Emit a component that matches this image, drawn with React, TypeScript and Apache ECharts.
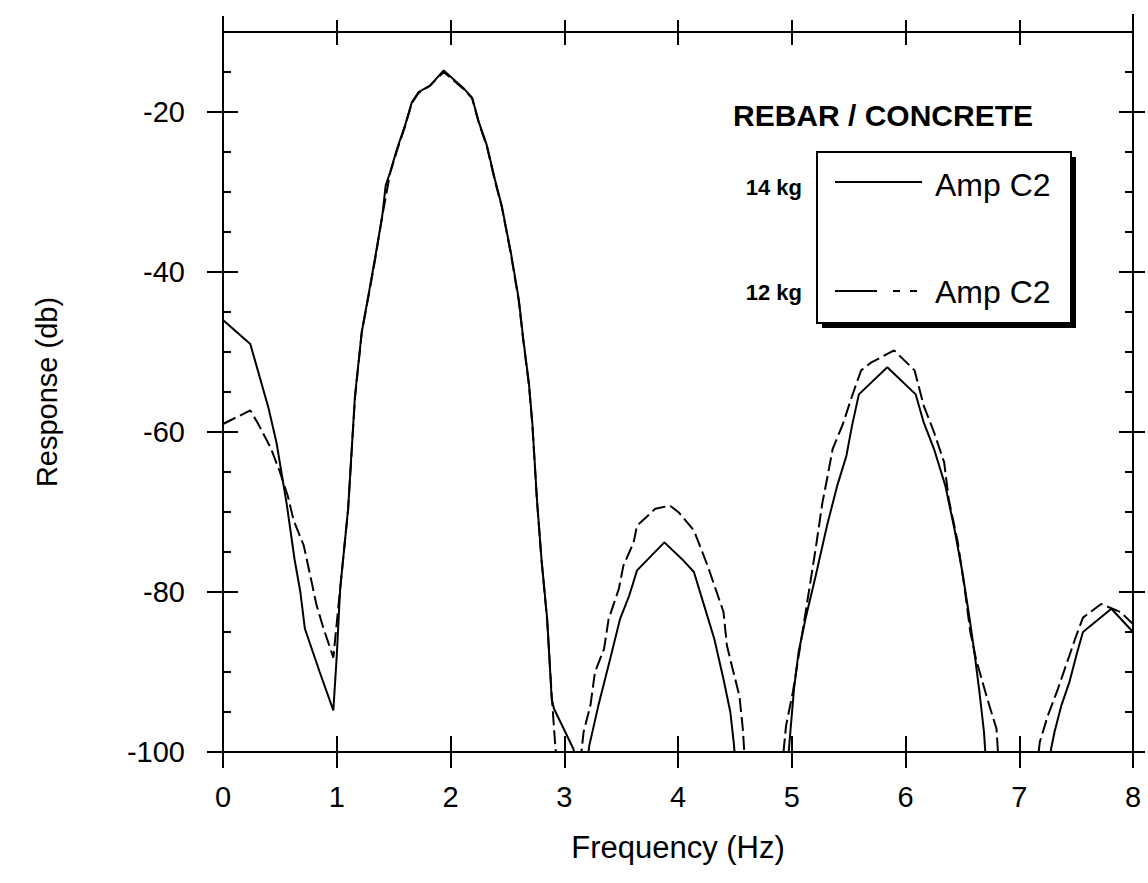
import React, { useEffect, useRef } from 'react';
import * as echarts from 'echarts';

// ---- data ----
const freq14 = [0, 0.24, 0.4, 0.47, 0.56, 0.63, 0.68, 0.72, 0.85, 0.97, 1.0, 1.03, 1.1, 1.16, 1.22, 1.29, 1.34, 1.4, 1.43, 1.47, 1.53, 1.6, 1.66, 1.72, 1.82, 1.94, 2.12, 2.19, 2.25, 2.32, 2.39, 2.45, 2.53, 2.6, 2.64, 2.69, 2.72, 2.76, 2.8, 2.85, 2.89, 2.91, 3.08, 3.15, 3.18, 3.22, 3.3, 3.41, 3.49, 3.57, 3.64, 3.88, 4.05, 4.14, 4.23, 4.32, 4.4, 4.46, 4.49, 4.52, 4.95, 4.99, 5.02, 5.06, 5.12, 5.21, 5.31, 5.4, 5.48, 5.53, 5.59, 5.84, 6.09, 6.16, 6.25, 6.35, 6.43, 6.5, 6.56, 6.61, 6.65, 6.69, 6.72, 7.25, 7.28, 7.31, 7.37, 7.44, 7.51, 7.56, 7.81, 8.0];
const amp14 = [-46, -49, -57, -61.3, -69, -76, -80, -84.6, -90, -94.8, -88, -79.6, -69.6, -55.5, -47.5, -42, -38, -33, -29.2, -27.5, -24.6, -21.7, -18.8, -17.5, -16.7, -14.8, -17.1, -18.2, -21.3, -24.2, -28.4, -31.7, -37.5, -43.4, -48.4, -54, -59, -68.4, -75.9, -83.4, -93.4, -94.6, -99.6, -104, -104, -99.2, -94.2, -88, -83.4, -80.5, -77.3, -73.8, -76.1, -77.5, -81.7, -85.9, -90.9, -95, -98.8, -104, -104, -97.1, -92.1, -87.5, -83.4, -78, -71.7, -66.7, -63, -59.2, -55.3, -51.9, -55.3, -58.8, -62.1, -66.7, -72.1, -77.5, -83, -88, -92.5, -97.5, -104, -104, -99.6, -97.5, -94.2, -91.3, -87.5, -85, -82.1, -85];

const freq12 = [0, 0.24, 0.31, 0.42, 0.5, 0.57, 0.62, 0.71, 0.78, 0.82, 0.88, 0.97, 1.03, 1.1, 1.16, 1.22, 1.29, 1.34, 1.4, 1.47, 1.53, 1.6, 1.66, 1.72, 1.82, 1.94, 2.12, 2.19, 2.25, 2.32, 2.39, 2.45, 2.53, 2.6, 2.64, 2.69, 2.72, 2.76, 2.8, 2.85, 2.89, 2.92, 2.95, 3.12, 3.17, 3.23, 3.27, 3.35, 3.39, 3.48, 3.52, 3.61, 3.64, 3.8, 3.93, 4.01, 4.14, 4.26, 4.33, 4.4, 4.43, 4.48, 4.54, 4.57, 4.6, 4.9, 4.95, 5.01, 5.08, 5.14, 5.21, 5.27, 5.31, 5.36, 5.45, 5.53, 5.61, 5.7, 5.9, 6.08, 6.16, 6.25, 6.34, 6.38, 6.46, 6.52, 6.57, 6.62, 6.72, 6.8, 6.83, 7.14, 7.18, 7.25, 7.34, 7.43, 7.49, 7.56, 7.72, 7.89, 8.0];
const amp12 = [-59, -57.3, -59, -62, -65, -68, -71, -74.2, -78.8, -81.5, -84.4, -88.2, -79.6, -69.6, -55.8, -47.5, -42.2, -38.2, -33, -27.6, -24.8, -21.8, -18.9, -17.6, -16.7, -15, -17.2, -18.3, -21.4, -24.3, -28.6, -31.8, -37.7, -43.6, -48.6, -54.2, -59.2, -68.6, -76, -83.6, -93, -99, -104, -104, -97.5, -94.2, -90, -87.1, -83.4, -79.6, -76.7, -73.8, -71.7, -69.6, -69.2, -70.1, -72.3, -76.7, -79.6, -82.5, -86.7, -89.6, -93, -97.1, -104, -104, -96.7, -92.5, -86.3, -80.9, -74.6, -68.8, -65.9, -62.1, -59, -55.5, -52.3, -51.3, -49.8, -52.3, -56.7, -60, -63.8, -68.4, -73.8, -79.6, -85, -88.4, -93.4, -97.1, -104, -104, -98.8, -95.5, -92.1, -88.4, -85.9, -83.2, -81.5, -82.5, -84];

const xMin = 0;
const xMax = 8;
const yMin = -100;
const yMax = -10;
const yMajorTicks = [-100, -80, -60, -40, -20];
const xTitle = 'Frequency (Hz)';
const yTitle = 'Response (db)';
const legendTitle = 'REBAR / CONCRETE';
const name14 = '14 kg';
const name12 = '12 kg';
const legendLabel = 'Amp C2';

const FONT = '"Liberation Sans", Arial, sans-serif';

export default function App() {
  const ref = useRef<HTMLDivElement>(null);

  useEffect(() => {
    if (!ref.current) return;
    const chart = echarts.init(ref.current, null, { renderer: 'svg' });
    const grid = { left: 223, top: 32, width: 910, height: 720 };
    const lineBlack = { color: '#000', width: 2 };

    const xBase = (gridIndex: number, position: string, extra: any) => ({
      type: 'value',
      gridIndex,
      position,
      min: xMin,
      max: xMax,
      interval: 1,
      splitLine: { show: false },
      axisLine: { show: false, onZero: false },
      axisLabel: { show: false },
      axisTick: { show: false },
      ...extra,
    });
    const yBase = (gridIndex: number, position: string, extra: any) => ({
      type: 'value',
      gridIndex,
      position,
      min: yMin,
      max: yMax,
      interval: 5,
      splitLine: { show: false },
      axisLine: { show: false, onZero: false },
      axisLabel: { show: false },
      axisTick: { show: false },
      ...extra,
    });

    const option: any = {
      animation: false,
      backgroundColor: '#fff',
      grid: [grid, grid, grid],
      xAxis: [
        xBase(0, 'bottom', {
          axisLine: { show: true, onZero: false, lineStyle: lineBlack },
          axisTick: { show: true, inside: false, length: 16, lineStyle: lineBlack },
          axisLabel: { show: true, color: '#000', fontSize: 29, fontFamily: FONT, margin: 30 },
          name: xTitle,
          nameLocation: 'middle',
          nameGap: 80,
          nameTextStyle: { color: '#000', fontSize: 31, fontFamily: FONT },
        }),
        xBase(0, 'top', {
          axisLine: { show: true, onZero: false, lineStyle: lineBlack },
          axisTick: { show: true, inside: false, length: 12, lineStyle: lineBlack },
        }),
        xBase(1, 'bottom', {
          axisTick: { show: true, inside: true, length: 16, lineStyle: lineBlack },
        }),
        xBase(1, 'top', {
          axisTick: { show: true, inside: true, length: 13, lineStyle: lineBlack },
        }),
        xBase(2, 'bottom', {}),
        xBase(2, 'top', {}),
      ],
      yAxis: [
        yBase(0, 'left', {
          axisLine: { show: true, onZero: false, lineStyle: lineBlack },
          axisTick: { show: true, inside: true, length: 8, lineStyle: lineBlack },
          axisLabel: { show: true, customValues: yMajorTicks, color: '#000', fontSize: 29, fontFamily: FONT, margin: 38 },
          name: yTitle,
          nameLocation: 'middle',
          nameGap: 162,
          nameTextStyle: { color: '#000', fontSize: 29, fontFamily: FONT },
        }),
        yBase(0, 'right', {
          axisLine: { show: true, onZero: false, lineStyle: lineBlack },
          axisTick: { show: true, inside: true, length: 8, lineStyle: lineBlack },
        }),
        yBase(1, 'left', {
          axisTick: { show: true, inside: false, customValues: yMajorTicks, length: 16, lineStyle: lineBlack },
        }),
        yBase(1, 'right', {
          axisTick: { show: true, inside: false, customValues: yMajorTicks, length: 12, lineStyle: lineBlack },
        }),
        yBase(2, 'left', {
          axisTick: { show: true, inside: true, customValues: yMajorTicks, length: 15, lineStyle: lineBlack },
        }),
        yBase(2, 'right', {
          axisTick: { show: true, inside: true, customValues: yMajorTicks, length: 14, lineStyle: lineBlack },
        }),
      ],
      series: [
        {
          name: name14,
          type: 'line',
          xAxisIndex: 0,
          yAxisIndex: 0,
          data: freq14.map((f, i) => [f, amp14[i]]),
          symbol: 'none',
          clip: true,
          lineStyle: { color: '#000', width: 2, type: 'solid' },
        },
        {
          name: name12,
          type: 'line',
          xAxisIndex: 0,
          yAxisIndex: 0,
          data: freq12.map((f, i) => [f, amp12[i]]),
          symbol: 'none',
          clip: true,
          lineStyle: { color: '#000', width: 2, type: [14, 5] },
        },
      ],
      graphic: [
        // axis extensions above the frame
        { type: 'line', shape: { x1: 223, y1: 16, x2: 223, y2: 32 }, style: { stroke: '#000', lineWidth: 2 } },
        { type: 'line', shape: { x1: 1133, y1: 14, x2: 1133, y2: 32 }, style: { stroke: '#000', lineWidth: 2 } },
        // legend title
        {
          type: 'text', x: 733, y: 115,
          style: { text: legendTitle, fontSize: 30, fontWeight: 'bold', fontFamily: FONT, fill: '#000', align: 'left', verticalAlign: 'middle' },
        },
        // legend box shadow + box
        { type: 'rect', shape: { x: 822, y: 157, width: 254, height: 171 }, style: { fill: '#000' } },
        { type: 'rect', shape: { x: 817, y: 152, width: 254, height: 171 }, style: { fill: '#fff', stroke: '#000', lineWidth: 2 } },
        // entry 1
        {
          type: 'text', x: 802, y: 187,
          style: { text: name14, fontSize: 22, fontWeight: 'bold', fontFamily: FONT, fill: '#000', align: 'right', verticalAlign: 'middle' },
        },
        { type: 'line', shape: { x1: 835, y1: 182, x2: 922, y2: 182 }, style: { stroke: '#000', lineWidth: 2 } },
        {
          type: 'text', x: 935, y: 185,
          style: { text: legendLabel, fontSize: 32, fontFamily: FONT, fill: '#000', align: 'left', verticalAlign: 'middle' },
        },
        // entry 2
        {
          type: 'text', x: 802, y: 292,
          style: { text: name12, fontSize: 22, fontWeight: 'bold', fontFamily: FONT, fill: '#000', align: 'right', verticalAlign: 'middle' },
        },
        { type: 'line', shape: { x1: 835, y1: 291, x2: 877, y2: 291 }, style: { stroke: '#000', lineWidth: 2 } },
        { type: 'line', shape: { x1: 893, y1: 291, x2: 900, y2: 291 }, style: { stroke: '#000', lineWidth: 2 } },
        { type: 'line', shape: { x1: 910, y1: 291, x2: 917, y2: 291 }, style: { stroke: '#000', lineWidth: 2 } },
        {
          type: 'text', x: 935, y: 292,
          style: { text: legendLabel, fontSize: 32, fontFamily: FONT, fill: '#000', align: 'left', verticalAlign: 'middle' },
        },
      ],
    };

    chart.setOption(option);
    return () => chart.dispose();
  }, []);

  return (
    <div
      ref={ref}
      style={{ position: 'fixed', left: 0, top: 0, width: 1148, height: 883, background: '#fff' }}
    />
  );
}
